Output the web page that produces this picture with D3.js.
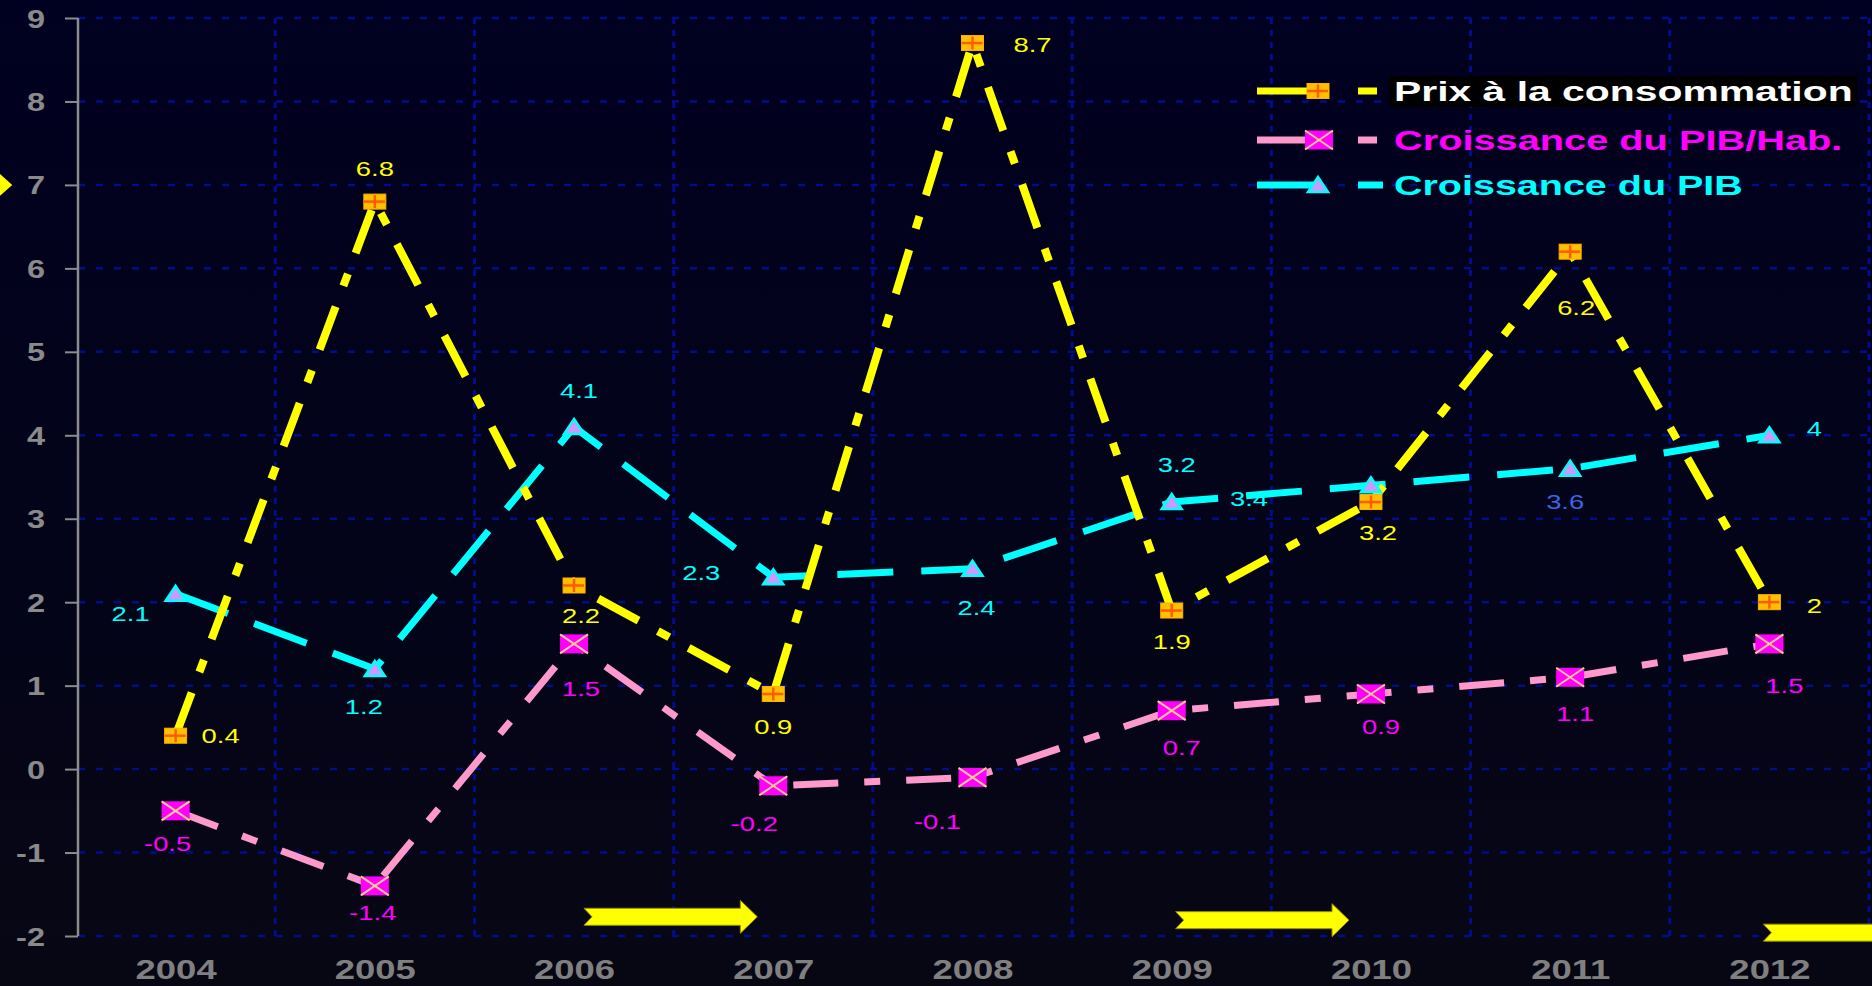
<!DOCTYPE html>
<html>
<head>
<meta charset="utf-8">
<style>
    html, body { margin: 0; padding: 0; background: #02021a; overflow: hidden; }
    svg { display: block; }
    .axis .domain { display: none; }
    .y.axis .tick line { stroke: #8c8c8c; stroke-width: 2px; }
    .y.axis .tick text { font-family: 'Liberation Sans', Arial, sans-serif; font-weight: bold; font-size: 25px; fill: #8a8a8a; }
    .x.axis .tick line { display: none; }
    .x.axis .tick text { font-family: 'Liberation Sans', Arial, sans-serif; font-weight: bold; font-size: 27px; fill: #808080; }
    .val { font-family: 'Liberation Sans', Arial, sans-serif; font-size: 20px; }
    .legend-text { font-family: 'Liberation Sans', Arial, sans-serif; font-weight: bold; font-size: 28px; }
</style>
</head>
<body>
<svg width="1872" height="986"></svg>

<script src="https://d3js.org/d3.v7.min.js"></script>
<script>
    // data
    let years = [2004, 2005, 2006, 2007, 2008, 2009, 2010, 2011, 2012]
    let prix = [0.4, 6.8, 2.2, 0.9, 8.7, 1.9, 3.2, 6.2, 2]
    let pibHab = [-0.5, -1.4, 1.5, -0.2, -0.1, 0.7, 0.9, 1.1, 1.5]
    let pib = [2.1, 1.2, 4.1, 2.3, 2.4, 3.2, 3.4, 3.6, 4]
    let yTicks = [-2, -1, 0, 1, 2, 3, 4, 5, 6, 7, 8, 9]
    let legendLabels = ["Prix à la consommation", "Croissance du PIB/Hab.", "Croissance du PIB"]

    let width = 1872
    let height = 986

    let svg = d3.select("svg")

    // background
    let defs = svg.append("defs")
    let grad = defs.append("linearGradient").attr("id", "bg")
        .attr("x1", 0).attr("y1", 0).attr("x2", 0).attr("y2", 1)
    grad.append("stop").attr("offset", "0%").attr("stop-color", "#000020")
    grad.append("stop").attr("offset", "100%").attr("stop-color", "#070714")
    svg.append("rect").attr("width", width).attr("height", height).attr("fill", "url(#bg)")

    let x = d3.scaleLinear()
        .domain([2003.5, 2012.5])
        .range([76, 1869])

    let y = d3.scaleLinear()
        .domain([-2, 9])
        .range([936, 18])

    // grid
    let grid = svg.append("g")
    grid.selectAll(".hgrid")
        .data(yTicks)
        .join("line")
        .attr("x1", x(2003.5) + 2)
        .attr("x2", width)
        .attr("y1", d => y(d))
        .attr("y2", d => y(d))
        .attr("stroke", "#000e8c")
        .attr("stroke-width", 2.5)
        .attr("stroke-dasharray", "7,11")

    grid.selectAll(".vgrid")
        .data(years.map(d => d + 0.5))
        .join("line")
        .attr("x1", d => x(d))
        .attr("x2", d => x(d))
        .attr("y1", y(9))
        .attr("y2", y(-2))
        .attr("stroke", "#000e8c")
        .attr("stroke-width", 3)
        .attr("stroke-dasharray", "6,6")

    // y axis
    let yAxis = svg.append("g")
        .attr("class", "y axis")
        .attr("transform", `translate(${x(2003.5) + 2},0)`)
        .call(d3.axisLeft(y).tickValues(yTicks).tickFormat(d => String(d)).tickSize(13).tickPadding(0))
    yAxis.selectAll(".tick text")
        .attr("x", -33 / 1.3)
        .attr("dy", "0.36em")
        .attr("transform", "scale(1.3,1)")
    yAxis.append("line")
        .attr("y1", y(9)).attr("y2", y(-2))
        .attr("stroke", "#8c8c8c").attr("stroke-width", 2.5)

    // x axis labels
    let xAxis = svg.append("g")
        .attr("class", "x axis")
        .attr("transform", "translate(0,979)")
        .call(d3.axisBottom(x).tickValues(years).tickFormat(d3.format("d")).tickSize(0).tickPadding(0))
    xAxis.selectAll(".tick text")
        .attr("y", 0)
        .attr("dy", 0)
        .attr("transform", "scale(1.35,1)")

    // decorative yellow arrows along the bottom
    let arrows = [
        { x0: 2006.05, x1: 2006.92, v: -1.77 },
        { x0: 2009.02, x1: 2009.89, v: -1.81 },
        { x0: 2011.97, x1: 2013.2, v: -1.96 }
    ]
    svg.append("g").selectAll("path")
        .data(arrows)
        .join("path")
        .attr("d", d => {
            let a = x(d.x0), b = x(d.x1), c = y(d.v)
            let h = 8.5, H = 16.5, head = 17, notch = 8
            return `M${a},${c - h}L${b - head},${c - h}L${b - head},${c - H}L${b},${c}` +
                `L${b - head},${c + H}L${b - head},${c + h}L${a},${c + h}L${a + notch},${c}Z`
        })
        .attr("fill", "#ffff00")
        .attr("stroke", "#9a8f00")
        .attr("stroke-width", 1)

    // clipped arrow tip on the left edge
    svg.append("path")
        .attr("d", `M${x(2003.18) - 18},${y(7) - 16}L${x(2003.18)},${y(7)}L${x(2003.18) - 18},${y(7) + 16}Z`)
        .attr("fill", "#ffff00")

    let line = d3.line()
        .x((d, i) => x(years[i]))
        .y(d => y(d))

    // series lines
    svg.append("path")
        .datum(pib)
        .attr("d", line)
        .attr("fill", "none")
        .attr("stroke", "#00ffff")
        .attr("stroke-width", 7)
        .attr("stroke-dasharray", "56,28")

    svg.append("path")
        .datum(pibHab)
        .attr("d", line)
        .attr("fill", "none")
        .attr("stroke", "#ff99cc")
        .attr("stroke-width", 7)
        .attr("stroke-dasharray", "45,26,16,26")

    svg.append("path")
        .datum(prix)
        .attr("d", line)
        .attr("fill", "none")
        .attr("stroke", "#ffff00")
        .attr("stroke-width", 8)
        .attr("stroke-dasharray", "46,22,13,22")

    // marker shapes
    function squarePlus(g) {
        g.append("rect").attr("x", -11).attr("y", -7.5).attr("width", 22).attr("height", 15)
            .attr("fill", "#ffc000").attr("stroke", "#ffb000").attr("stroke-width", 1)
        g.append("line").attr("x1", -11).attr("x2", 10).attr("y1", 0).attr("y2", 0)
            .attr("stroke", "#ff5a00").attr("stroke-width", 2.5)
        g.append("line").attr("x1", 0).attr("x2", 0).attr("y1", -6.5).attr("y2", 6.5)
            .attr("stroke", "#ff5a00").attr("stroke-width", 2.5)
    }
    function squareCross(g) {
        g.append("rect").attr("x", -14).attr("y", -9.5).attr("width", 28).attr("height", 19)
            .attr("fill", "#ff00ff")
        g.append("path").attr("d", "M-14,-9.5L14,9.5M-14,9.5L14,-9.5")
            .attr("stroke", "#ffcc88").attr("stroke-width", 2)
    }
    function triangle(g) {
        g.append("path").attr("d", "M0,-8L10,7L-10,7Z")
            .attr("fill", "#cc99ff").attr("stroke", "#00ffff").attr("stroke-width", 2.5)
            .attr("stroke-linejoin", "miter")
    }

    function drawMarkers(values, shape) {
        svg.append("g").selectAll("g")
            .data(values)
            .join("g")
            .attr("transform", (d, i) => `translate(${x(years[i])},${y(d)})`)
            .each(function () { shape(d3.select(this)) })
    }
    drawMarkers(pib, triangle)
    drawMarkers(pibHab, squareCross)
    drawMarkers(prix, squarePlus)

    // value labels (offsets from each point, in px)
    let prixOff = [[45, 0], [0, -33], [7, 30], [0, 33], [60, 2], [0, 31], [7, 31], [6, 56], [45, 4]]
    let habOff = [[-8, 33], [-2, 27], [7, 45], [-19, 38], [-35, 44], [10, 37], [10, 33], [5, 37], [15, 42]]
    let pibOff = [[-45, 20], [-11, 38], [5, -36], [-72, -4], [4, 39], [5, -37], [-122, 13], [-5, 33], [45, -6]]

    function drawLabels(values, offs, color) {
        svg.append("g").selectAll("text")
            .data(values)
            .join("text")
            .attr("class", "val")
            .attr("transform", (d, i) => `translate(${x(years[i]) + offs[i][0]},${y(d) + offs[i][1]}) scale(1.37,1)`)
            .attr("text-anchor", "middle")
            .attr("dy", "0.36em")
            .attr("fill", typeof color === "function" ? (d, i) => color(i) : color)
            .text(d => d)
    }
    drawLabels(prix, prixOff, "#ffff00")
    drawLabels(pibHab, habOff, "#ff00ff")
    drawLabels(pib, pibOff, i => i === 7 ? "#3c64e6" : "#00ffff")

    // legend
    let legendRows = [
        { label: legendLabels[0], line: "#ffff00", text: "#ffffff", shape: squarePlus, dy: 91, sx: 1.46 },
        { label: legendLabels[1], line: "#ff99cc", text: "#ff00ff", shape: squareCross, dy: 140, sx: 1.42 },
        { label: legendLabels[2], line: "#00ffff", text: "#00ffff", shape: triangle, dy: 185, sx: 1.41 }
    ]

    svg.append("rect")
        .attr("x", 1389).attr("y", 76).attr("width", 468).attr("height", 31)
        .attr("fill", "#000000")

    let legend = svg.append("g").selectAll("g")
        .data(legendRows)
        .join("g")
        .attr("transform", d => `translate(0,${d.dy})`)

    legend.append("line")
        .attr("x1", 1257).attr("x2", 1314)
        .attr("stroke", d => d.line).attr("stroke-width", 7)
    legend.append("line")
        .attr("x1", 1358).attr("x2", (d, i) => i === 2 ? 1383 : 1377)
        .attr("stroke", d => d.line).attr("stroke-width", 7)
    legend.each(function (d, i) {
        let g = d3.select(this).append("g")
            .attr("transform", `translate(${i === 1 ? 1319 : 1318},0)`)
        d.shape(g)
    })
    legend.append("text")
        .attr("class", "legend-text")
        .attr("transform", d => `translate(1394,10) scale(${d.sx},1)`)
        .attr("fill", d => d.text)
        .text(d => d.label)
</script>
</body>
</html>
